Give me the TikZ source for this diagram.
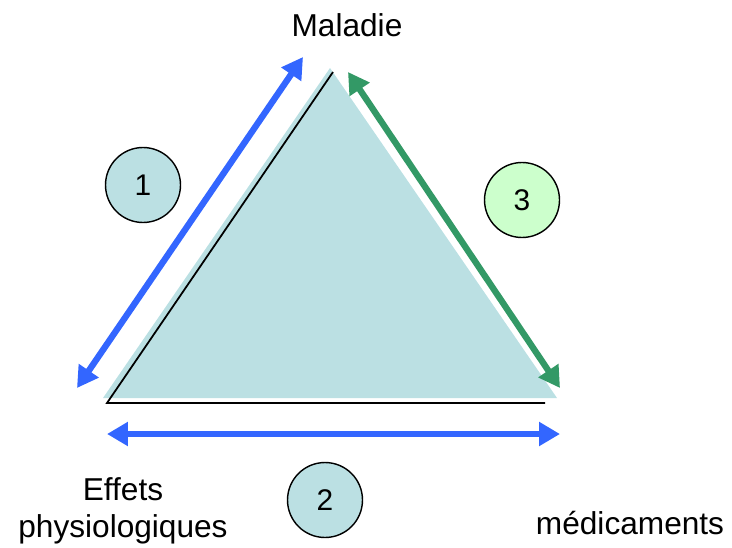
\documentclass[tikz,border=0pt]{standalone}
\usepackage{fontspec}
\setmainfont{Liberation Sans}
\usetikzlibrary{arrows.meta, positioning}
\definecolor{tealfill}{HTML}{BBE0E3}
\definecolor{mintfill}{HTML}{CCFFCC}
\definecolor{relblue}{HTML}{3366FF}
\definecolor{relgreen}{HTML}{339966}
\tikzset{
  relarrow/.style={
    {Triangle[length=4.2mm, width=4.6mm]}-{Triangle[length=4.2mm, width=4.6mm]},
    line width=3.6pt, draw=#1
  },
  numcircle/.style={
    circle, draw=black, line width=0.8pt, fill=#1,
    minimum size=1.5cm, inner sep=0pt,
    font=\fontsize{17}{20}\selectfont
  },
  vertexlabel/.style={
    align=center, inner sep=0pt,
    font=\fontsize{18}{21}\selectfont
  },
}

\begin{document}
\begin{tikzpicture}[x=0.02cm, y=-0.02cm]
    \useasboundingbox (0,0) rectangle (732,547);

    % triangle
    \fill[tealfill] (330,68) -- (103,398) -- (557,398) -- cycle;
    \draw[line width=1pt] (333,72) -- (107,403) -- (545,403);

    % vertex labels
    \node[vertexlabel] (mal) at (347,25) {Maladie};
    \node[vertexlabel] (eff) at (123,511) {Effets\\physiologiques};
    \node[vertexlabel] (med) at (630,523) {médicaments};

    % arrow ends
    \coordinate (a1s) at (77,388);
    \coordinate (a1e) at (303,57);
    \coordinate (a2s) at (107,434);
    \coordinate (a2e) at (560,434);
    \coordinate (a3s) at (348,72);
    \coordinate (a3e) at (560,388);

    \draw[relarrow=relblue]  (a1s) -- (a1e);
    \draw[relarrow=relblue]  (a2s) -- (a2e);
    \draw[relarrow=relgreen] (a3s) -- (a3e);

    % numbered circles
    \node[numcircle=tealfill] (c1) at (143,185) {1};
    \node[numcircle=tealfill] (c2) at (325,500) {2};
    \node[numcircle=mintfill] (c3) at (522,200) {3};

  \end{tikzpicture}
\end{document}
